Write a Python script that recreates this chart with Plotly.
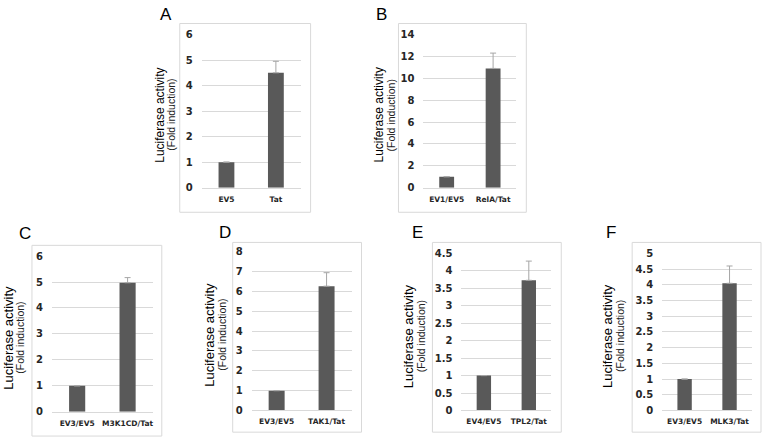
import plotly.graph_objects as go

W, H = 764, 444

# ---- data ----
cats_A = ["EV5", "Tat"]
vals_A = [1, 4.5]
err_A = [0, 0.45]

cats_B = ["EV1/EV5", "RelA/Tat"]
vals_B = [1, 10.9]
err_B = [0, 1.4]

cats_C = ["EV3/EV5", "M3K1CD/Tat"]
vals_C = [1, 4.97]
err_C = [0, 0.2]

cats_D = ["EV3/EV5", "TAK1/Tat"]
vals_D = [1, 6.27]
err_D = [0, 0.68]

cats_E = ["EV4/EV5", "TPL2/Tat"]
vals_E = [1, 3.73]
err_E = [0, 0.55]

cats_F = ["EV3/EV5", "MLK3/Tat"]
vals_F = [1, 4.05]
err_F = [0, 0.55]

panel_letters = ["A", "B", "C", "D", "E", "F"]
y_max = [6, 14, 6, 8, 4.5, 5]
y_dtick = [1, 2, 1, 1, 0.5, 0.5]
title_main = "Luciferase activity"
title_sub = "(Fold induction)"

# ---- layout geometry (pixels) ----
geo = [
    dict(p=(202, 301, 29.3, 186.7), b=(180, 311, 18, 212), L=(166, 9), t=160, s=171, tf=12),
    dict(p=(424, 517, 29.3, 186.7), b=(399, 527, 18, 212), L=(382, 9), t=379, s=391, tf=12),
    dict(p=(52, 153, 257, 417), b=(32, 162, 246, 442), L=(25, 234), t=9, s=20, tf=13),
    dict(p=(252, 352, 252.7, 415.7), b=(233, 362, 243, 438), L=(225, 233), t=209, s=222, tf=13),
    dict(p=(462, 552, 254.3, 415.7), b=(433, 562, 243, 438), L=(418, 233), t=409, s=421, tf=13),
    dict(p=(663, 753, 254.3, 415.7), b=(633, 762, 243, 438), L=(612, 233), t=609, s=621, tf=13),
]

data = [(cats_A, vals_A, err_A), (cats_B, vals_B, err_B), (cats_C, vals_C, err_C),
        (cats_D, vals_D, err_D), (cats_E, vals_E, err_E), (cats_F, vals_F, err_F)]

FONT = "Liberation Sans, Arial, sans-serif"
TICKFONT = "DejaVu Sans, Liberation Sans, sans-serif"
BAR = "#595959"
GRID = "#d9d9d9"
TXT = "#262626"

def px(x):
    return x / W

def py(y):
    return 1 - y / H

fig = go.Figure()
shapes = []
annotations = []
layout = {}

for i, (g, (cats, vals, errs)) in enumerate(zip(geo, data)):
    n = "" if i == 0 else str(i + 1)
    fig.add_trace(go.Bar(
        x=cats, y=vals, xaxis="x" + n, yaxis="y" + n,
        marker=dict(color=BAR, line=dict(width=0)),
        error_y=dict(type="data", array=errs, arrayminus=[0] * len(errs), symmetric=False,
                     color="#a6a6a6", thickness=1, width=3),
        showlegend=False,
    ))
    x0, x1, yt, yb = g["p"]
    layout["xaxis" + n] = dict(
        domain=[px(x0), px(x1)], anchor="y" + n, type="category",
        tickvals=cats, ticktext=["<b>" + c + "</b>" for c in cats],
        showgrid=False, showline=True, linecolor=GRID, linewidth=1,
        ticks="", tickfont=dict(family=TICKFONT, size=7.5, color=TXT),
        ticklabelstandoff=4, fixedrange=True,
    )
    layout["yaxis" + n] = dict(
        domain=[py(yb), py(yt)], anchor="x" + n, range=[0, y_max[i]], dtick=y_dtick[i],
        showgrid=True, gridcolor=GRID, gridwidth=1, zeroline=False, showline=False,
        tickprefix="<b>", ticksuffix="</b>",
        ticks="", tickfont=dict(family=TICKFONT, size=10, color=TXT),
        ticklabelstandoff=8, fixedrange=True,
    )
    bx0, bx1, by0, by1 = g["b"]
    shapes.append(dict(type="rect", xref="paper", yref="paper",
                       x0=px(bx0), x1=px(bx1), y0=py(by1), y1=py(by0),
                       line=dict(color=GRID, width=1), fillcolor="white", layer="below"))
    lx, ly = g["L"]
    annotations.append(dict(text=panel_letters[i], x=px(lx), y=py(ly), xref="paper", yref="paper",
                            xanchor="center", yanchor="middle", showarrow=False,
                            font=dict(family=FONT, size=17, color="black")))
    ymid = py((yt + yb) / 2 + 4)
    annotations.append(dict(text=title_main, x=px(g["t"]), y=ymid, xref="paper", yref="paper",
                            xanchor="center", yanchor="middle", textangle=-90, showarrow=False,
                            font=dict(family=FONT, size=g["tf"], color="black")))
    annotations.append(dict(text=title_sub, x=px(g["s"]), y=ymid, xref="paper", yref="paper",
                            xanchor="center", yanchor="middle", textangle=-90, showarrow=False,
                            font=dict(family=FONT, size=10.5, color="#222222")))

fig.update_layout(
    width=W, height=H, margin=dict(l=0, r=0, t=0, b=0),
    paper_bgcolor="white", plot_bgcolor="rgba(0,0,0,0)",
    bargap=0.68, shapes=shapes, annotations=annotations,
    **layout,
)

fig.write_html("out.html")
